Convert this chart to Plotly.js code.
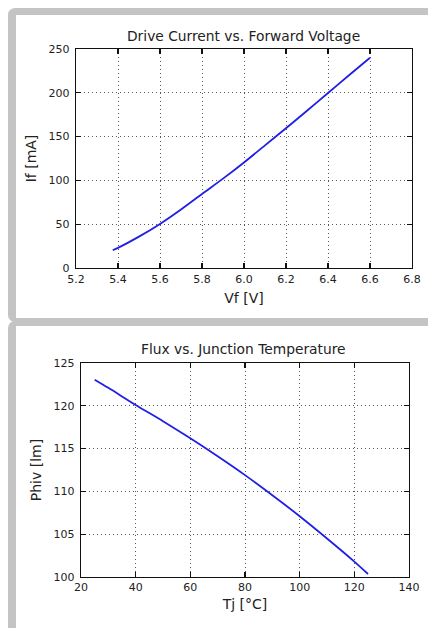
<!DOCTYPE html>
<html>
<head>
<meta charset="utf-8">
<script src="https://cdn.plot.ly/plotly-3.0.1.min.js"></script>
<style>
  html, body { margin: 0; padding: 0; background: #ffffff; width: 428px; height: 628px; overflow: hidden; }
  .frame { position: absolute; border-style: solid; border-color: #c4c4c4; border-right: none; box-sizing: border-box; }
  #f1 { left: 8px; top: 8px; width: 440px; height: 314px; border-width: 7px 0 4px 8px; border-radius: 7px 0 0 7px; }
  #f2 { left: 8px; top: 321px; width: 440px; height: 330px; border-width: 5px 0 0 8px; border-radius: 7px 0 0 0; }
  #chart { position: absolute; left: 0; top: 0; width: 428px; height: 628px; }
</style>
</head>
<body>
<div class="frame" id="f1"></div>
<div class="frame" id="f2"></div>
<div id="chart"></div>
<script>
// Drive current vs forward voltage
const vf = [5.375, 5.4, 5.5, 5.6, 5.7, 5.8, 5.9, 6.0, 6.1, 6.2, 6.3, 6.4, 6.5, 6.6];
const ifCurrent = [20.3, 23, 35.8, 50.3, 66.8, 84.5, 102, 120.5, 140, 159.5, 179.5, 199.7, 220, 240];
// Flux vs junction temperature
const tj = [25, 30, 40, 50, 60, 70, 80, 90, 100, 110, 120, 125];
const phiv = [123.05, 122.1, 120.1, 118.2, 116.2, 114.1, 111.9, 109.55, 107.1, 104.5, 101.8, 100.35];

const xTicks1 = [5.2, 5.4, 5.6, 5.8, 6.0, 6.2, 6.4, 6.6, 6.8];
const yTicks1 = [0, 50, 100, 150, 200, 250];
const xTicks2 = [20, 40, 60, 80, 100, 120, 140];
const yTicks2 = [100, 105, 110, 115, 120, 125];

const W = 428, H = 628;
const FAM = 'DejaVu Sans, sans-serif';
const font = { family: FAM, size: 11, color: '#222' };
const titleFont = { family: FAM, size: 13.8, color: '#222' };

function axis(extra) {
  return Object.assign({
    showline: true, linecolor: '#111', linewidth: 1.2, mirror: 'allticks',
    ticks: 'inside', ticklen: 5, tickcolor: '#111', tickwidth: 1.2,
    showgrid: true, gridcolor: '#555', gridwidth: 1, griddash: '1px,3px',
    zeroline: false, tickfont: font, fixedrange: true
  }, extra);
}

const lineStyle = { color: '#1f1fe6', width: 1.8, shape: 'spline', smoothing: 0.8 };
const traces = [
  { x: vf, y: ifCurrent, xaxis: 'x', yaxis: 'y', mode: 'lines', line: lineStyle, showlegend: false, hoverinfo: 'skip' },
  { x: tj, y: phiv, xaxis: 'x2', yaxis: 'y2', mode: 'lines', line: lineStyle, showlegend: false, hoverinfo: 'skip' }
];

const layout = {
  width: W, height: H,
  margin: { l: 0, r: 0, t: 0, b: 0 },
  paper_bgcolor: 'rgba(0,0,0,0)',
  plot_bgcolor: '#ffffff',
  font: font,
  showlegend: false,
  xaxis: axis({ domain: [76 / W, 412 / W], range: [5.2, 6.8], tickvals: xTicks1, tickformat: '.1f', anchor: 'y',
    ticklabelstandoff: 1,
    title: { text: 'Vf [V]', font: { family: FAM, size: 14, color: '#222' }, standoff: 7 } }),
  yaxis: axis({ domain: [1 - 268 / H, 1 - 49 / H], range: [0, 250], tickvals: yTicks1, anchor: 'x',
    ticklabelstandoff: 3,
    title: { text: 'If [mA]', font: { family: FAM, size: 14, color: '#222' }, standoff: 8 } }),
  xaxis2: axis({ domain: [81 / W, 409 / W], range: [20, 140], tickvals: xTicks2, anchor: 'y2',
    title: { text: 'Tj [°C]', font: { family: FAM, size: 14, color: '#222' }, standoff: 5 } }),
  yaxis2: axis({ domain: [1 - 577 / H, 1 - 363 / H], range: [100, 125], tickvals: yTicks2, anchor: 'x2',
    ticklabelstandoff: 3,
    title: { text: 'Phiv [lm]', font: { family: FAM, size: 14, color: '#222' }, standoff: 8 } }),
  annotations: [
    { text: 'Drive Current vs. Forward Voltage', xref: 'paper', yref: 'paper', x: 244 / W, y: 1 - 36 / H,
      showarrow: false, xanchor: 'center', yanchor: 'middle', font: titleFont },
    { text: 'Flux vs. Junction Temperature', xref: 'paper', yref: 'paper', x: 244 / W, y: 1 - 349 / H,
      showarrow: false, xanchor: 'center', yanchor: 'middle', font: titleFont }
  ]
};

Plotly.newPlot('chart', traces, layout, { staticPlot: true, displayModeBar: false });
</script>
</body>
</html>
